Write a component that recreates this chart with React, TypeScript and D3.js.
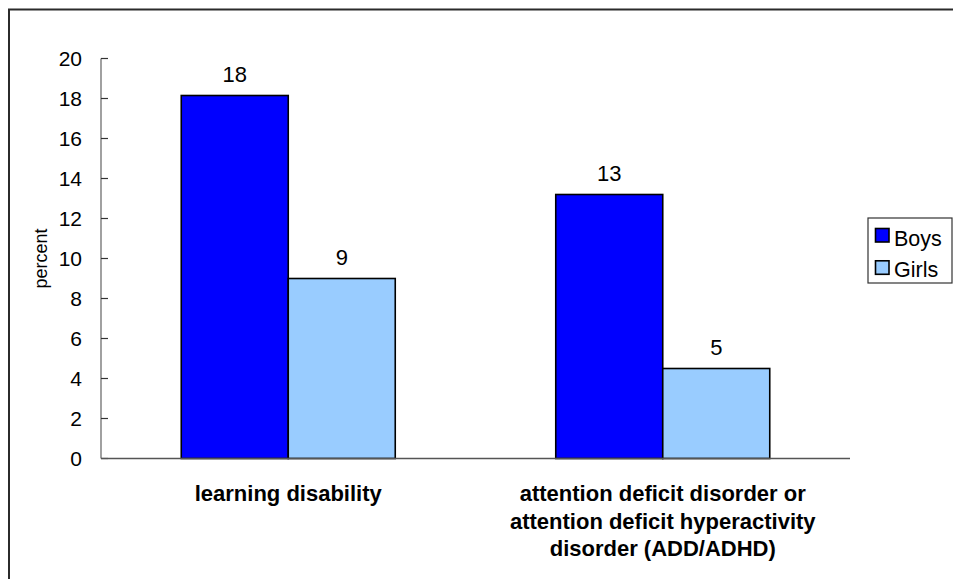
import React from "react";
import * as d3 from "d3";

const categories = ["learning disability", "attention deficit disorder or attention deficit hyperactivity disorder (ADD/ADHD)"];
const categoryLines = [["learning disability"], ["attention deficit disorder or", "attention deficit hyperactivity", "disorder (ADD/ADHD)"]];
const series = ["Boys", "Girls"];
const boysValues = [18.15, 13.2];
const girlsValues = [9.0, 4.5];
const valueLabels = [["18", "13"], ["9", "5"]];
const yTicks = [0, 2, 4, 6, 8, 10, 12, 14, 16, 18, 20];
const colors = ["#0000FF", "#99CCFF"];

export default function App() {
  const left = 101, right = 850, top = 58.5, bottom = 458.5;
  const y = d3.scaleLinear().domain([0, 20]).range([bottom, top]);
  const x0 = d3.scaleBand<string>().domain(categories).range([left, right]).padding(0);
  const x1 = d3.scaleBand<string>().domain(series).range([0, x0.bandwidth()]).paddingInner(0).paddingOuter(0.75);
  const values = [boysValues, girlsValues];
  const font = "Arial, 'Liberation Sans', sans-serif";

  return (
    <svg width={953} height={579} style={{ position: "absolute", left: 0, top: 0, background: "#fff" }} fontFamily={font}>
      <rect x={9} y={9.5} width={1200} height={1200} fill="#fff" stroke="#2b2b2b" strokeWidth={2} />
      {/* y axis */}
      <line x1={left} x2={left} y1={top} y2={bottom} stroke="#6e6e6e" strokeWidth={1.3} />
      {yTicks.map((t) => (
        <g key={t}>
          <line x1={left} x2={left + 7} y1={y(t)} y2={y(t)} stroke="#333" strokeWidth={1.2} />
          <text x={82} y={y(t)} dy="0.36em" textAnchor="end" fontSize={21} fill="#000">{t}</text>
        </g>
      ))}
      <text transform={`translate(47,${(top + bottom) / 2}) rotate(-90)`} textAnchor="middle" fontSize={18} fill="#000">percent</text>
      {/* bars */}
      {categories.map((c, ci) => (
        <g key={c}>
          {series.map((s, si) => {
            const v = values[si][ci];
            const bx = (x0(c) ?? 0) + (x1(s) ?? 0);
            return (
              <g key={s}>
                <rect x={bx} y={y(v)} width={x1.bandwidth()} height={bottom - y(v)} fill={colors[si]} stroke="#000" strokeWidth={1.6} />
                <text x={bx + x1.bandwidth() / 2} y={y(v) - 14} textAnchor="middle" fontSize={22} fill="#000">{valueLabels[si][ci]}</text>
              </g>
            );
          })}
          {categoryLines[ci].map((ln, li) => (
            <text key={li} x={(x0(c) ?? 0) + x0.bandwidth() / 2} y={501 + li * 27.5} textAnchor="middle" fontSize={22} fontWeight="bold" fill="#000">{ln}</text>
          ))}
        </g>
      ))}
      {/* x axis */}
      <line x1={left} x2={right} y1={bottom} y2={bottom} stroke="#555" strokeWidth={1.3} />
      {/* legend */}
      <rect x={868} y={218} width={84} height={65} fill="#fff" stroke="#333" strokeWidth={1.2} />
      {series.map((s, si) => (
        <g key={s}>
          <rect x={875.5} y={228.5 + si * 32.3} width={13.5} height={13.5} fill={colors[si]} stroke="#000" strokeWidth={1.6} />
          <text x={894} y={246 + si * 30.7} fontSize={21.5} fill="#000">{s}</text>
        </g>
      ))}
    </svg>
  );
}
